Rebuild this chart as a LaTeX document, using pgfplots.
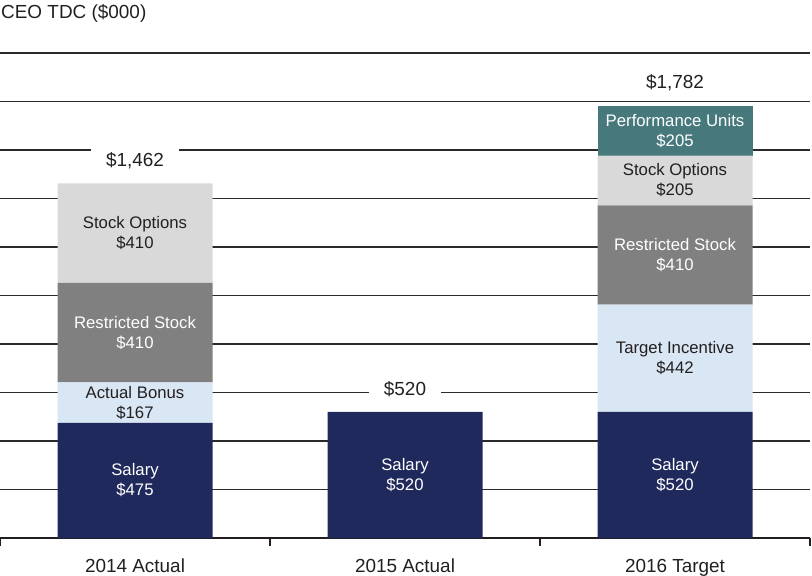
\documentclass[border=0pt]{standalone}
\usepackage{pgfplots}
\pgfplotsset{compat=1.18}
\usepackage{pgfplotstable}
\usepackage{fontspec}
\setmainfont{Liberation Sans}
\definecolor{navy}{HTML}{1F295B}
\definecolor{lblue}{HTML}{D9E6F3}
\definecolor{mgray}{HTML}{808080}
\definecolor{lgray}{HTML}{D9D9D9}
\definecolor{teal2}{HTML}{46787C}
\definecolor{txt}{HTML}{231F20}
\definecolor{grid}{HTML}{2A2A2A}

% stacked values: x = 0 (2014 Actual), 1 (2015 Actual), 2 (2016 Target)
\pgfplotstableread{
x  salary  incentive  restricted  options  perf
0  475     167        410         410      0
1  520     0          0           0        0
2  520     442        410         205      205
}\tdc

\pgfplotsset{
  frame/.style={at={(0,0)}, anchor=south west,
    scale only axis, width=810bp, height=485bp,
    xmin=-0.5, xmax=2.5, ymin=0, ymax=2000, clip=false},
  lab/.style n args={3}{draw=none, mark=none,
    nodes near coords={#2\\\$#3},
    every node near coord/.append style={anchor=center, align=center,
      font=\fontsize{16.8}{20}\selectfont, text=#1}},
  tot/.style={draw=none, mark=none,
    nodes near coords={\$#1},
    every node near coord/.append style={anchor=center, yshift=23bp, fill=white,
      inner xsep=15bp, inner ysep=4bp, font=\fontsize{19}{22}\selectfont, text=txt}},
}

\begin{document}
\begin{tikzpicture}
\begin{axis}[
  frame,
  ybar stacked, bar width=155bp,
  axis lines*=left,
  y axis line style={draw=none},
  x axis line style={draw=txt, line width=1.6bp},
  ytick={200,400,...,2000}, yticklabels={}, ytick style={draw=none},
  ymajorgrids, major grid style={draw=grid, line width=1.8bp},
  xtick={0,1,2}, xticklabels={2014 Actual,2015 Actual,2016 Target},
  xtick style={draw=none},
  extra x ticks={-0.5,0.5,1.5,2.5}, extra x tick labels={},
  extra x tick style={major tick length=8bp, tick align=outside,
    xtick style={draw=txt, line width=1.6bp}},
  xticklabel style={font=\fontsize{19}{22}\selectfont, text=txt, anchor=base, yshift=-34bp},
]
\addplot[fill=navy, draw=none] table[x=x,y=salary]{\tdc};
\addplot[fill=lblue, draw=none] table[x=x,y=incentive]{\tdc};
\addplot[fill=mgray, draw=none] table[x=x,y=restricted]{\tdc};
\addplot[fill=lgray, draw=none] table[x=x,y=options]{\tdc};
\addplot[fill=teal2, draw=none] table[x=x,y=perf]{\tdc};
\node[anchor=base west, inner sep=0, font=\fontsize{19}{22}\selectfont, text=txt,
  yshift=34bp, xshift=1bp] at (rel axis cs:0,1) {CEO TDC (\$000)};
\end{axis}
% segment labels at the middle of each segment, totals above each bar
\begin{axis}[frame, hide axis]
\addplot[lab={white}{Salary}{475}] coordinates {(0,237.5)};
\addplot[lab={txt}{Actual Bonus}{167}] coordinates {(0,558.5)};
\addplot[lab={white}{Restricted Stock}{410}] coordinates {(0,847)};
\addplot[lab={txt}{Stock Options}{410}] coordinates {(0,1257)};
\addplot[lab={white}{Salary}{520}] coordinates {(1,260)};
\addplot[lab={white}{Salary}{520}] coordinates {(2,260)};
\addplot[lab={txt}{Target Incentive}{442}] coordinates {(2,741)};
\addplot[lab={white}{Restricted Stock}{410}] coordinates {(2,1167)};
\addplot[lab={txt}{Stock Options}{205}] coordinates {(2,1474.5)};
\addplot[lab={white}{Performance Units}{205}] coordinates {(2,1679.5)};
\addplot[tot={1,462}] coordinates {(0,1462)};
\addplot[tot={520}] coordinates {(1,520)};
\addplot[tot={1,782}] coordinates {(2,1782)};
\end{axis}
\pgfresetboundingbox
\useasboundingbox (0,-38bp) rectangle (812bp,538bp);
\end{tikzpicture}
\end{document}
